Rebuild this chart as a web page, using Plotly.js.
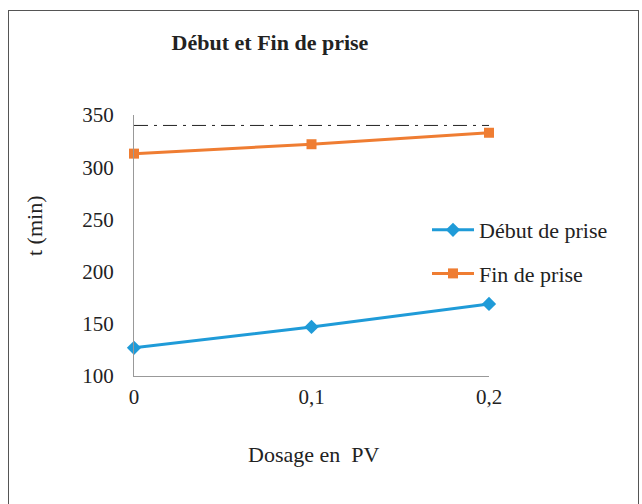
<!DOCTYPE html>
<html>
<head>
<meta charset="utf-8">
<script src="https://cdn.plot.ly/plotly-3.0.1.min.js"></script>
<style>
html,body{margin:0;padding:0;background:#fff;}
#wrap{position:relative;width:642px;height:504px;}
#chart{width:642px;height:504px;}
#frame{position:absolute;left:8px;top:10px;width:631px;height:500px;border:1.5px solid #555;pointer-events:none;box-sizing:border-box;}
</style>
</head>
<body>
<div id="wrap"><div id="chart"></div><div id="frame"></div></div>
<script>
const dosage = [0, 0.1, 0.2];
const tickLabels = ['0', '0,1', '0,2'];
const debutPrise = [127, 147, 169];
const finPrise = [313, 322, 333];
const refX = [0, 0.2];
const refLine = [340, 340];

const serif = 'Liberation Serif, Times New Roman, serif';

const traces = [
  {x: refX, y: refLine, mode: 'lines', showlegend: false, hoverinfo: 'skip',
   line: {color: '#222', width: 1, dash: '14px,6px,3px,6px'}},
  {x: dosage, y: debutPrise, name: 'Début de prise', mode: 'lines+markers', legendgroup: 'a',
   cliponaxis: false,
   line: {color: '#1F9BD8', width: 3}, marker: {symbol: 'diamond', size: 11, color: '#1F9BD8'}},
  {x: dosage, y: finPrise, name: 'Fin de prise', mode: 'lines+markers', legendgroup: 'b',
   cliponaxis: false,
   line: {color: '#EF7D32', width: 3}, marker: {symbol: 'square', size: 10, color: '#EF7D32'}}
];

const layout = {
  width: 642, height: 504,
  margin: {l: 134, r: 153, t: 115, b: 128},
  paper_bgcolor: '#fff', plot_bgcolor: '#fff',
  font: {family: serif, size: 22, color: '#222'},
  separators: ', ',
  title: {text: '<b>Début et Fin de prise</b>', x: 270/642, xref: 'container', xanchor: 'center',
          y: 1 - 42/504, yref: 'container', yanchor: 'middle',
          font: {family: serif, size: 22, color: '#222'}},
  xaxis: {range: [0, 0.2], tickvals: dosage, ticktext: tickLabels, showgrid: false, zeroline: false,
          showline: true, linecolor: '#999', linewidth: 1, ticks: '', ticklabelstandoff: 2,
          tickfont: {family: serif, size: 21, color: '#222'}},
  yaxis: {range: [100, 350], tickvals: [100, 150, 200, 250, 300, 350], showgrid: false, zeroline: false,
          showline: true, linecolor: '#999', linewidth: 1, ticks: '', ticklabelstandoff: 15,
          tickfont: {family: serif, size: 21, color: '#222'}},
  showlegend: true,
  legend: {x: (427-134)/355, xanchor: 'left', y: 1 - (209-115)/261, yanchor: 'top',
           traceorder: 'grouped', tracegroupgap: 12, itemwidth: 42, bgcolor: 'rgba(0,0,0,0)',
           font: {family: serif, size: 22, color: '#222'}},
  annotations: [
    {text: 'Dosage en  PV', xref: 'paper', yref: 'paper', x: (313-134)/355, y: -(455-376)/261,
     xanchor: 'center', yanchor: 'middle', showarrow: false, font: {family: serif, size: 22, color: '#222'}},
    {text: 't (min)', xref: 'paper', yref: 'paper', x: (34-134)/355, y: 1-(226-115)/261, textangle: -90,
     xanchor: 'center', yanchor: 'middle', showarrow: false, font: {family: serif, size: 22, color: '#222'}}
  ]
};

Plotly.newPlot('chart', traces, layout, {displayModeBar: false, staticPlot: true});
</script>
</body>
</html>
